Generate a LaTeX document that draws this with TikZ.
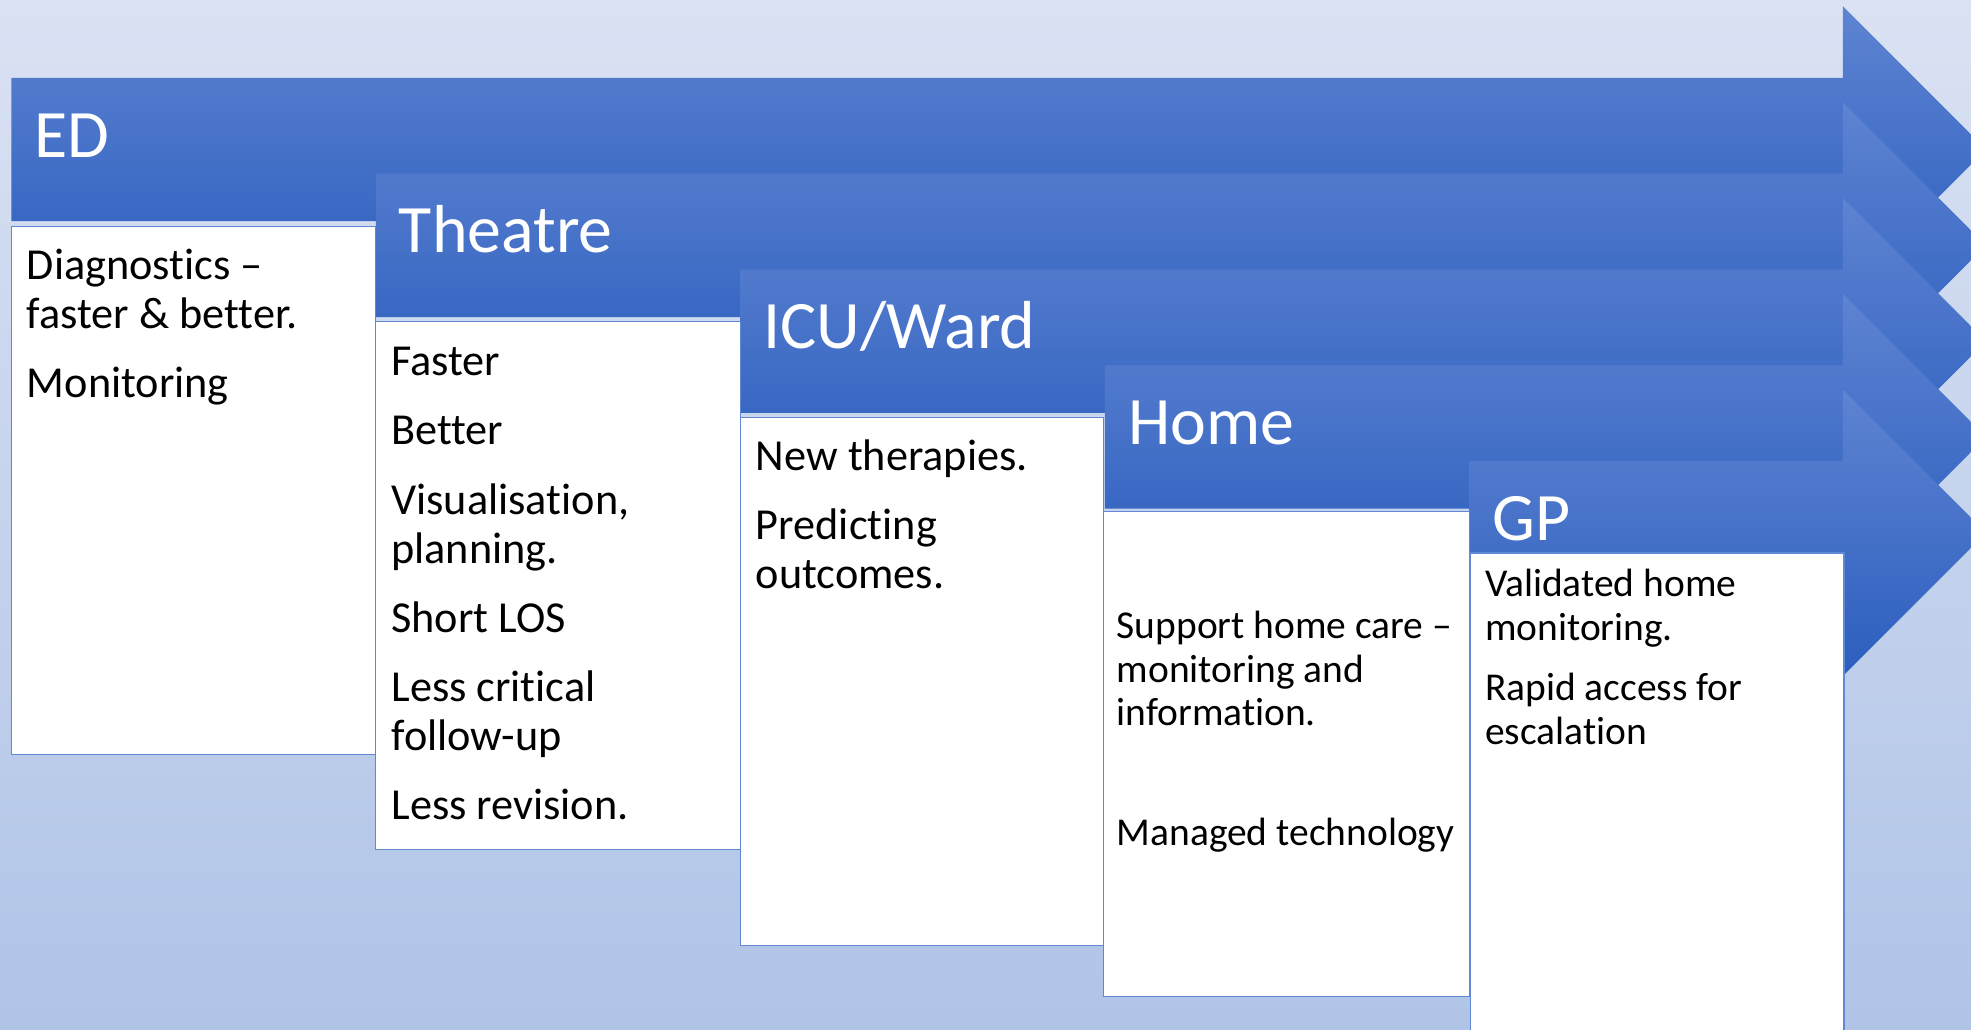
\documentclass[tikz,border=0pt]{standalone}
\usepackage{fontspec}
\setmainfont{Carlito}[Ligatures={TeX,NoCommon}]
\usepackage{xcolor}
\definecolor{bgtop}{RGB}{218,226,243}
\definecolor{bgbot}{RGB}{176,196,231}
\definecolor{arrtop}{RGB}{94,132,210}
\definecolor{arrbot}{RGB}{44,94,190}
\definecolor{boxline}{RGB}{96,136,212}
\usetikzlibrary{positioning}

\begin{document}
\begin{tikzpicture}[x=0.5pt,y=-0.5pt,
  stage/.style={top color=arrtop,bottom color=arrbot,draw=none},
  card/.style={draw=boxline,line width=0.5pt,fill=white},
  title/.style={anchor=base west,text=white,inner sep=0pt,font=\fontsize{27}{30}\selectfont},
  % lists sit on the baseline of their last line
  items/.style={anchor=base west,inner sep=0pt,align=left,font=\fontsize{17.6}{19.5}\selectfont},
  small items/.style={items,font=\fontsize{15.7}{17.3}\selectfont}]
\useasboundingbox (0,0) rectangle (1568,819);
\shade[top color=bgtop,bottom color=bgbot] (0,0) rectangle (1568,819);
\clip (0,0) rectangle (1568,819);

% the five overlapping stage arrows
\foreach \i/\lbl in {0/ED,1/Theatre,2/{ICU/Ward},3/Home,4/GP}{
  \pgfmathsetmacro\xl{9+290*\i}
  \pgfmathsetmacro\yt{62+76.2*\i}
  \path[stage] (\xl,\yt) -- (1466,\yt) -- (1466,\yt-57) -- (1580,\yt+57)
    -- (1466,\yt+171) -- (1466,\yt+114) -- (\xl,\yt+114) -- cycle;
  \node[title] (head\i) at (\xl+18,\yt+63) {\lbl};
}

% white cards under each stage
\draw[card] (9,180) rectangle (299,600);
\draw[card] (299,256) rectangle (589,676);
\draw[card] (589,332) rectangle (878,752);
\draw[card] (878,407) rectangle (1169,793);
\draw[card] (1170,440) rectangle (1467,830);

\node[items] (edtxt) at (21,316) {Diagnostics --\\faster \& better.\\[8pt]Monitoring};
\node[items] (theatretxt) at (311,652) {Faster\\[8pt]Better\\[8pt]Visualisation,\\planning.\\[8pt]Short LOS\\[8pt]Less critical\\follow-up\\[8pt]Less revision.};
\node[items] (icutxt) at (601,468) {New therapies.\\[8pt]Predicting\\outcomes.};
\node[small items] (hometxt) at (888,673) {Support home care --\\monitoring and\\information.\\[30.5pt]Managed technology};
\node[small items] (gptxt) at (1181,592) {Validated home\\monitoring.\\[6.7pt]Rapid access for\\escalation};
\end{tikzpicture}
\end{document}
